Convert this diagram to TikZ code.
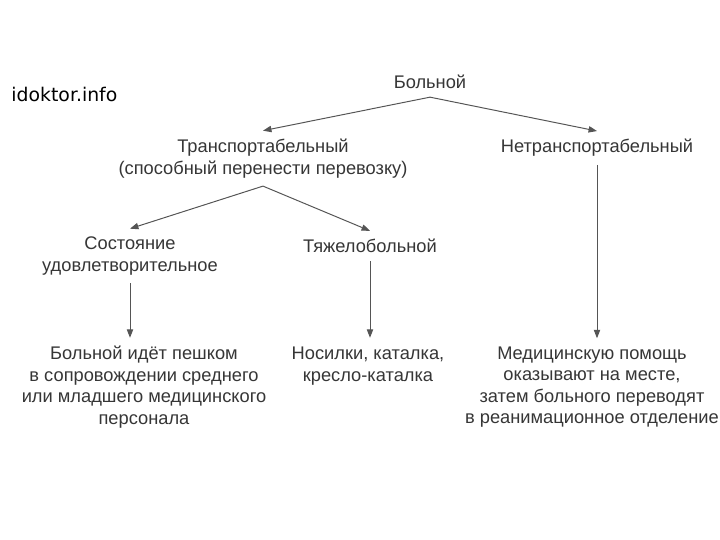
\documentclass[tikz,border=0pt]{standalone}
\usepackage{fontspec}
\usepackage{xcolor}
\definecolor{SchemeText}{HTML}{363636}
\definecolor{SchemeLine}{HTML}{555555}
\newfontfamily\schemefont{Liberation Sans}
\newfontfamily\markfont{DejaVu Sans}
\usepackage{tikz}
\usetikzlibrary{arrows.meta}

\begin{document}
\begin{tikzpicture}[
  lbl/.style={align=center,inner sep=0.2cm,text=SchemeText,font=\schemefont\fontsize{13}{15.3}\selectfont},
  arr/.style={-{Triangle[length=6pt,width=4.5pt]},line width=0.7pt,SchemeLine}
]
  \useasboundingbox[fill=white] (0,0) rectangle (18,13.5);
  \node[font=\markfont\fontsize{13.4}{15}\selectfont] (site) at (1.61,11.15) {idoktor.info};
  \node[lbl] (root) at (10.75,11.45) {Больной};
  \node[lbl] (trans) at (6.575,9.54) {Транспортабельный\\(способный перенести перевозку)};
  \node[lbl] (nontrans) at (14.925,9.8) {Нетранспортабельный};
  \node[lbl] (satis) at (3.25,7.1) {Состояние\\удовлетворительное};
  \node[lbl] (heavy) at (9.25,7.35) {Тяжелобольной};
  \node[lbl] (walk) at (3.6,3.825) {Больной идёт пешком\\в сопровождении среднего\\или младшего медицинского\\персонала};
  \node[lbl] (stretch) at (9.2,4.35) {Носилки, каталка,\\кресло-каталка};
  \node[lbl] (help) at (14.8,3.825) {Медицинскую помощь\\оказывают на месте,\\затем больного переводят\\в реанимационное отделение};
  \draw[arr] (root.south) -- (trans.north);
  \draw[arr] (root.south) -- (nontrans.north);
  \draw[arr] (trans.south) -- (satis.north);
  \draw[arr] (trans.south) -- (heavy.north);
  \draw[arr] (satis.south) -- (satis.south |- walk.north);
  \draw[arr] (heavy.south) -- (heavy.south |- walk.north);
  \draw[arr] (nontrans.south) -- (nontrans.south |- help.north);
\end{tikzpicture}
\end{document}
